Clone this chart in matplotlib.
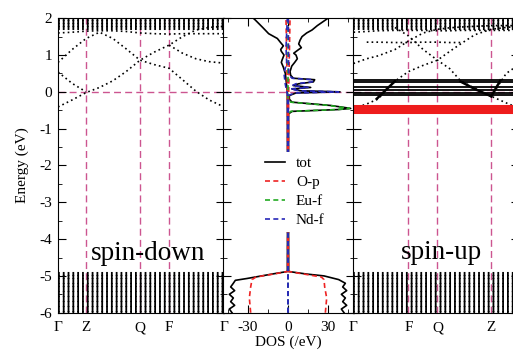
import numpy as np
import matplotlib
matplotlib.use("Agg")
import matplotlib.pyplot as plt
from matplotlib.ticker import MultipleLocator

plt.rcParams['font.family'] = ['Liberation Serif', 'DejaVu Serif']
plt.rcParams['axes.unicode_minus'] = False

nan = np.nan

# high symmetry points along the path (fraction of path length)
kpath_dn = [0.0, 0.169, 0.494, 0.669, 1.0]
klabels_dn = ['\u0393', 'Z', 'Q', 'F', '\u0393']
kpath_up = [0.0, 0.331, 0.506, 0.83, 1.0]
klabels_up = ['\u0393', 'F', 'Q', 'Z', '\u0393']

# spin-down dispersive bands, read on kgrid_dn
kgrid_dn = [0.0, 0.085, 0.169, 0.25, 0.33, 0.41, 0.494, 0.58, 0.669, 0.75, 0.83, 0.91, 1.0]
bands_dn = [
    [-0.41, -0.22, -0.02, 0.12, 0.30, 0.55, 0.86, 1.08, 1.27, 1.50, 1.68, 1.75, 1.78],
    [0.54, 0.23, 0.0, nan, nan, nan, nan, nan, nan, nan, nan, nan, nan],
    [0.80, 1.15, 1.45, 1.62, 1.45, 1.17, 0.86, 0.74, 0.64, 0.33, 0.02, -0.22, -0.41],
    [nan, nan, nan, nan, nan, nan, nan, nan, 1.27, 1.05, 0.90, 0.82, 0.78],
    [1.60, 1.62, 1.65, 1.66, 1.66, 1.64, 1.60, 1.58, 1.57, 1.58, 1.58, 1.58, 1.58],
]

# spin-up dispersive bands, read on kgrid_up
kgrid_up = [0.0, 0.08, 0.15, 0.25, 0.331, 0.42, 0.506, 0.58, 0.645, 0.73, 0.83, 0.92, 1.0]
bands_up = [
    [-0.45, -0.33, -0.19, 0.29, 0.55, 0.72, 0.86, 1.10, 1.30, 1.55, 1.70, 1.75, 1.78],
    [0.77, 0.90, 0.98, 1.15, 1.38, 1.60, 1.70, 1.74, 1.76, 1.78, 1.80, 1.80, 1.80],
    [nan, nan, nan, 1.75, 1.52, 1.15, 0.86, 0.63, 0.30, 0.10, -0.12, -0.30, -0.45],
    [nan, nan, nan, nan, nan, nan, nan, nan, nan, nan, -0.12, 0.50, 0.75],
    [1.62, 1.64, 1.66, 1.67, 1.67, 1.67, 1.66, 1.66, 1.67, 1.67, 1.67, 1.67, 1.67],
    [nan, 1.35, 1.35, 1.34, 1.34, 1.35, 1.35, 1.34, 1.34, nan, nan, nan, nan],
]
# spin-up bands drawn solid (f-hybridised pieces)
solid_k_up = [[0.14, 0.25], [0.645, 0.73, 0.83], [0.83, 0.885]]
solid_e_up = [[-0.19, 0.29], [0.28, 0.08, -0.12], [-0.12, 0.31]]
flat_nd_up = [0.32, 0.26, 0.13, 0.04, -0.03, -0.09]
flat_eu_up = [-0.39, -0.43, -0.47, -0.51, -0.54]

# dense manifolds (O-p below, conduction bands above)
manifold_low = [-4.93, -4.97, -5.01, -5.05, -5.09, -5.13, -5.18, -5.22, -5.27,
                -5.31, -5.36, -5.40, -5.45, -5.49, -5.54, -5.58, -5.63, -5.67,
                -5.72, -5.76, -5.81, -5.85, -5.90, -5.94, -5.99]
manifold_high = [1.72, 1.76, 1.80, 1.84, 1.88, 1.92, 1.96, 2.00]

# DOS (states/eV), positive = spin-up, negative = spin-down
tot_up_e = [-6.0, -5.9, -5.8, -5.7, -5.6, -5.5, -5.4, -5.3, -5.2, -5.1, -5.0, -4.95,
            -4.88, -3.0, -0.6, -0.53, -0.48, -0.45, -0.37, -0.28, -0.2, -0.1, -0.03,
            0.0, 0.03, 0.08, 0.12, 0.17, 0.22, 0.27, 0.33, 0.37, 0.45, 0.55, 0.7,
            0.8, 0.9, 1.0, 1.05, 1.15, 1.2, 1.3, 1.4, 1.5, 1.6, 1.68, 1.8, 1.95, 2.0]
tot_up = [42, 40, 44, 41, 43, 40, 44, 41, 43, 38, 27, 14,
          0.5, 0.3, 0.4, 3, 38, 47, 32, 3, 1, 1, 6,
          39, 9, 3, 17, 4, 8, 19, 20, 4, 2, 1.5, 2.8,
          5, 7, 6, 4.3, 8, 10, 8, 9, 10.5, 14, 18, 22, 28, 30]
tot_dn_e = [-6.0, -5.9, -5.8, -5.7, -5.6, -5.5, -5.4, -5.3, -5.2, -5.12, -5.07, -4.95,
            -4.88, -3.0, 0.0, 0.5, 0.67, 0.8, 0.86, 1.0, 1.1, 1.15, 1.25, 1.35, 1.45,
            1.58, 1.75, 1.95, 2.0]
tot_dn = [-42, -44, -40, -43, -41, -44, -40, -43, -41, -39.5, -30.7, -12,
          -0.5, -0.3, -0.5, -2, -3.5, -5, -4.5, -3, -5, -5.5, -3.5, -5.8, -8,
          -14.5, -19, -24.5, -26]
op_e = [-6.0, -5.6, -5.3, -5.1, -5.03, -4.95, -4.88, -3.0, 0.0, 1.0, 2.0]
op_up = [28, 29, 27.5, 27, 25, 12, 0.3, 0.2, 0.5, 1.0, 1.5]
op_dn = [-28, -29, -28, -27, -24, -11, -0.3, -0.2, -0.5, -1.0, -1.5]
eu_up_e = [-6.0, -0.6, -0.53, -0.48, -0.45, -0.37, -0.28, -0.2, 2.0]
eu_up = [0, 0, 2, 37, 46, 31, 2, 0, 0]
nd_up_e = [-6.0, -0.1, -0.03, 0.0, 0.03, 0.08, 0.12, 0.17, 0.22, 0.27, 0.33, 0.37,
           0.45, 0.55, 2.0]
nd_up = [0, 0.3, 5, 38, 8, 2, 15, 3, 6, 18, 19, 3, 1, 0.5, 0.2]
nd_dn_e = [-6.0, -0.1, 0.2, 0.5, 0.8, 1.2, 2.0]
nd_dn = [0, -0.3, -2, -3, -1, -1.5, -0.5]

PINK = '#cc5590'
DOTS = (0, (1.0, 1.9))
STRIPES = (0, (0.85, 1.46))
DASH = (0, (3, 2))


def style_energy_axis(ax):
    ax.set_ylim(-6, 2)
    ax.yaxis.set_major_locator(MultipleLocator(1))
    ax.yaxis.set_minor_locator(MultipleLocator(0.5))
    ax.tick_params(axis='y', which='both', direction='in', left=True, right=True,
                   labelleft=False)
    ax.tick_params(axis='y', which='major', length=6)
    ax.tick_params(axis='y', which='minor', length=3)
    ax.axhline(0, color=PINK, lw=1.0, ls=(0, (5, 3)), zorder=1)


def band_panel(ax, kpath, klabels, kgrid, bands):
    ax.set_xlim(0, 1)
    style_energy_axis(ax)
    ax.set_xticks(kpath)
    ax.set_xticklabels(klabels)
    ax.tick_params(axis='x', length=0, pad=6, labelsize=11)
    for k in kpath[1:-1]:
        ax.axvline(k, color=PINK, lw=1.0, ls=(0, (5, 3)), zorder=1)
    for e in manifold_low + manifold_high:
        ax.plot([0, 1], [e, e], color='black', lw=1.5, ls=STRIPES)
    for b in bands:
        ax.plot(kgrid, b, color='black', lw=1.2, ls=DOTS)


fig = plt.figure(figsize=(5.13, 3.52), dpi=100)
ax_dn = fig.add_axes([0.1131, 0.1116, 0.3236, 0.8366])
ax_dos = fig.add_axes([0.4347, 0.1116, 0.2554, 0.8366])
ax_up = fig.add_axes([0.6890, 0.1116, 0.3236, 0.8366])

# spin-down bands
band_panel(ax_dn, kpath_dn, klabels_dn, kgrid_dn, bands_dn)
ax_dn.tick_params(axis='y', labelleft=True, labelsize=11, pad=4)
ax_dn.set_ylabel('Energy (eV)', fontsize=11, labelpad=8)
ax_dn.text(0.54, -4.39, 'spin-down', fontsize=19.5, ha='center', va='center')

# spin-up bands
band_panel(ax_up, kpath_up, klabels_up, kgrid_up, bands_up)
for e in flat_nd_up:
    ax_up.plot([0, 1], [e, e], color='black', lw=1.3)
for e in flat_eu_up:
    ax_up.plot([0, 1], [e, e], color='#ee1c1c', lw=2.2)
for ks, es in zip(solid_k_up, solid_e_up):
    ax_up.plot(ks, es, color='black', lw=1.8)
ax_up.text(0.527, -4.36, 'spin-up', fontsize=19.5, ha='center', va='center')

# DOS
ax_dos.set_xlim(-48.75, 49.5)
style_energy_axis(ax_dos)
ax_dos.xaxis.set_major_locator(MultipleLocator(30))
ax_dos.xaxis.set_minor_locator(MultipleLocator(15))
ax_dos.tick_params(axis='x', which='both', direction='in', top=True, bottom=True,
                   labelsize=11, pad=6)
ax_dos.tick_params(axis='x', which='major', length=6)
ax_dos.tick_params(axis='x', which='minor', length=3)
ax_dos.set_xlabel('DOS (/eV)', fontsize=11, labelpad=1)

l_tot, = ax_dos.plot(tot_up, tot_up_e, color='black', lw=1.2, label='tot')
ax_dos.plot(tot_dn, tot_dn_e, color='black', lw=1.2)
l_op, = ax_dos.plot(op_up, op_e, color='#ee2222', lw=1.2, ls=DASH, label='O-p')
ax_dos.plot(op_dn, op_e, color='#ee2222', lw=1.2, ls=DASH)
l_eu, = ax_dos.plot(eu_up, eu_up_e, color='#22aa22', lw=1.2, ls=DASH, label='Eu-f')
l_nd, = ax_dos.plot(nd_up, nd_up_e, color='#2828b8', lw=1.2, ls=DASH, label='Nd-f')
ax_dos.plot(nd_dn, nd_dn_e, color='#2828b8', lw=1.2, ls=DASH)

leg = ax_dos.legend(handles=[l_tot, l_op, l_eu, l_nd], loc='center',
                    bbox_to_anchor=(0.55, 0.41), fontsize=11, frameon=True,
                    framealpha=1, edgecolor='none', fancybox=False,
                    handlelength=1.3, handletextpad=0.7, labelspacing=0.35,
                    borderpad=0.3)
leg.set_zorder(5)

fig.savefig('out.png', dpi=100)
